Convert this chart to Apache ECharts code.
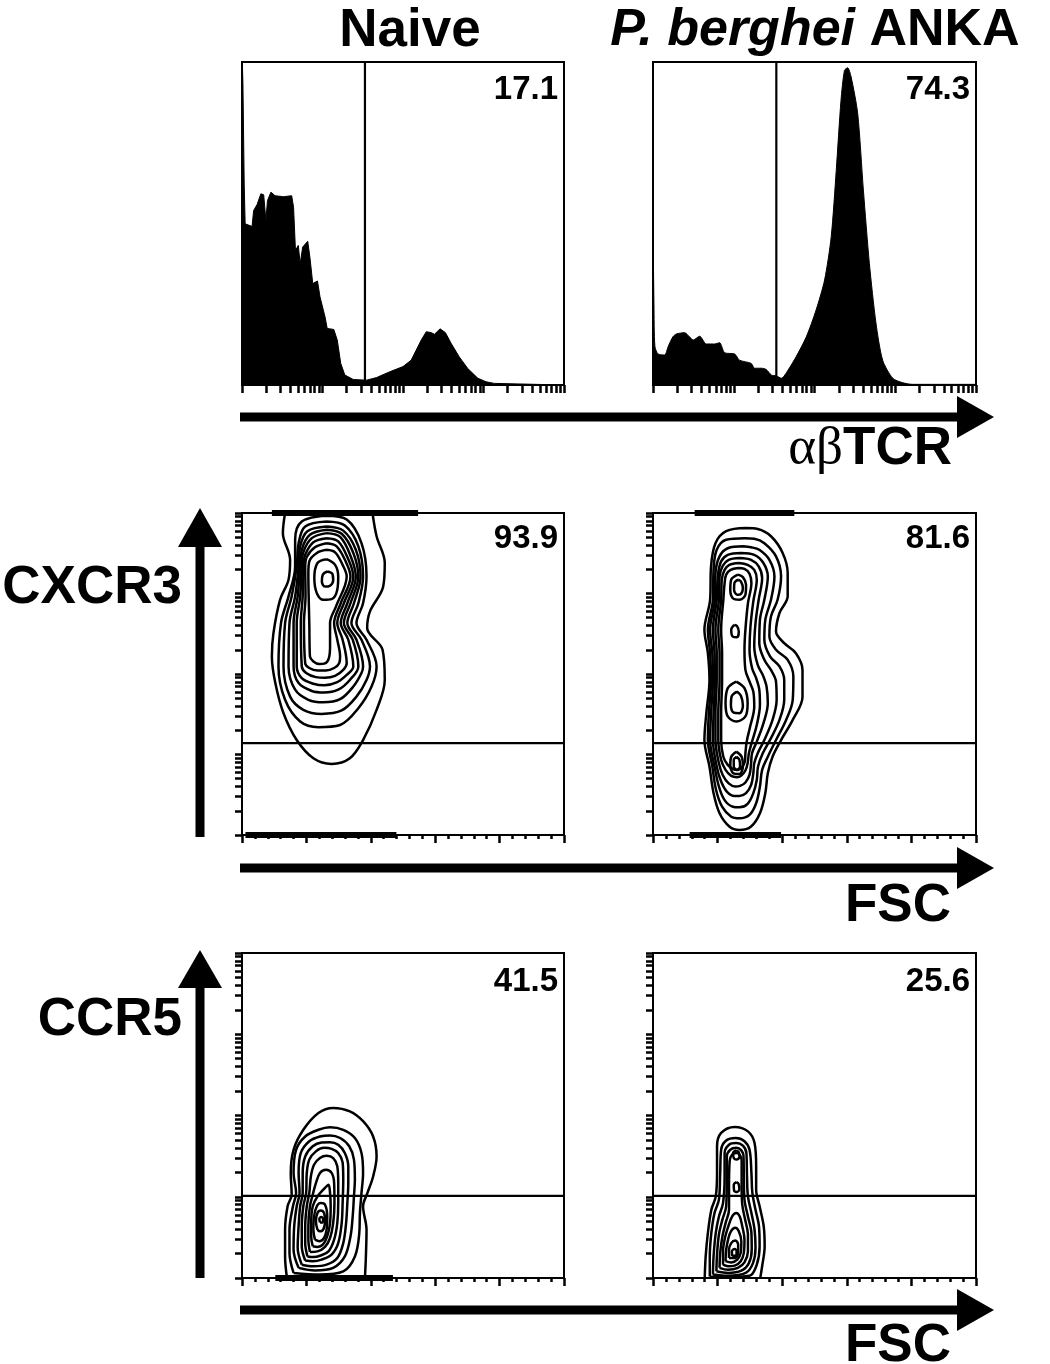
<!DOCTYPE html>
<html><head><meta charset="utf-8">
<script src="https://cdn.jsdelivr.net/npm/echarts@6/dist/echarts.min.js"></script>
<style>html,body{margin:0;padding:0;background:#fff}#c{width:1050px;height:1364px}</style>
</head><body><div id="c"></div>
<script>
// ---------- labels ----------
const columnTitles = ['Naive', 'P. berghei ANKA'];
const rowMarkers = ['CXCR3', 'CCR5'];
const xAxisNames = ['αβTCR', 'FSC', 'FSC'];
// gate percentages, [row][column]
const gateLabels = [['17.1', '74.3'], ['93.9', '81.6'], ['41.5', '25.6']];

// ---------- histograms (x: TCR channel 0-1024 = 4 log decades, y: % of max) ----------
const histNaive = [[0,0],[1,100],[3,93.1],[7,62.2],[10,49.9],[32,49.1],[37,54.0],[48,55.9],[60,59.2],[69,58.9],[76,50.9],[81,57.1],[92,59.7],[105,58.6],[132,58.3],[158,58.6],[164,55.0],[170,41.7],[179,43.2],[185,37.6],[193,42.7],[209,44.5],[216,39.5],[225,31.4],[240,32.2],[248,27.3],[264,21.1],[271,17.5],[292,17.2],[303,13.9],[314,6.7],[327,3.1],[354,1.7],[396,1.5],[428,2.3],[470,4.1],[512,5.7],[538,7.7],[554,10.8],[570,13.9],[586,16.5],[602,16.2],[612,15.7],[630,17.4],[647,16.2],[665,12.9],[691,8.7],[718,5.1],[750,2.1],[776,1.0],[802,0.5],[808,0],[1024,0]];
const histPbA = [[0,0],[1,40],[3,25],[6,12],[16,9.6],[37,9.3],[48,11.9],[63,14.9],[74,15.8],[100,16.2],[116,14.9],[127,13.9],[148,15.1],[169,12.7],[195,12.7],[211,13.1],[227,10.0],[259,9.6],[274,7.7],[311,6.7],[322,5.2],[343,5.2],[359,4.8],[375,3.1],[391,2.8],[407,2.1],[428,4.6],[454,8.8],[486,14.9],[517,23.2],[544,32.5],[565,45.9],[581,66.5],[596,88.1],[607,97.4],[617,98.2],[628,95.4],[649,84.0],[667,60.3],[686,37.6],[707,19.1],[728,7.7],[760,2.1],[792,0.7],[823,0.2],[1024,0.2]];
const tcrGate = 391;

// ---------- contour plots (x: FSC channel 0-1024, y: marker channel 0-1024 = 4 log decades) ----------
const cxcr3Gate = 292;
const ccr5Gate = 259;

const cxcr3Naive = [
 [[137,1024],[130,960],[153,875],[148,812],[121,748],[100,642],[95,568],[106,483],[132,387],[174,302],[227,244],[285,226],[343,244],[385,302],[428,398],[454,493],[447,589],[398,658],[407,711],[449,790],[454,865],[428,950],[415,1024]],
 [[269,1015],[190,997],[169,939],[169,854],[148,759],[124,674],[116,536],[137,430],[185,361],[243,343],[312,350],[370,403],[412,472],[428,536],[396,621],[364,674],[385,737],[396,822],[380,928],[333,1003]],
 [[269,997],[201,981],[180,928],[174,854],[158,759],[137,674],[132,536],[153,440],[195,398],[253,385],[317,396],[364,440],[396,493],[407,536],[380,621],[348,674],[370,737],[385,822],[370,918],[327,984]],
 [[269,981],[208,966],[185,918],[180,854],[169,759],[151,674],[148,536],[169,462],[211,430],[259,422],[312,432],[354,472],[380,515],[385,536],[364,621],[335,674],[356,737],[377,822],[362,907],[322,968]],
 [[269,971],[216,955],[190,907],[185,854],[177,759],[164,674],[164,536],[180,483],[222,458],[261,453],[306,462],[343,493],[370,536],[352,621],[324,674],[345,737],[370,822],[354,897],[317,958]],
 [[269,960],[222,944],[195,899],[190,854],[185,759],[174,674],[174,536],[190,499],[227,481],[262,476],[301,485],[333,509],[354,536],[338,621],[314,674],[335,737],[362,822],[345,888],[312,948]],
 [[269,944],[227,931],[201,891],[195,854],[193,759],[187,674],[190,536],[204,515],[235,502],[264,500],[296,506],[322,525],[333,546],[320,621],[303,674],[324,737],[354,822],[338,877],[306,934]],
 [[269,928],[232,915],[206,884],[201,854],[202,759],[197,674],[201,546],[214,531],[240,523],[267,523],[293,531],[309,546],[312,568],[303,621],[293,674],[314,737],[345,822],[331,867],[301,918]],
 [[269,907],[238,897],[214,870],[211,833],[212,759],[214,674],[216,568],[227,552],[246,544],[264,546],[276,562],[280,599],[280,674],[299,727],[333,822],[320,859],[296,899]],
 [[269,877],[240,865],[230,817],[238,769],[259,748],[285,750],[303,780],[306,822],[296,859]],
 [[271,838],[257,828],[254,806],[264,790],[280,793],[290,810],[287,831]]
];

const cxcr3PbA = [
 [[295,976],[232,966],[198,928],[184,854],[181,748],[163,653],[174,578],[179,493],[169,387],[163,302],[179,218],[192,133],[211,69],[242,27],[274,16],[311,27],[339,69],[356,133],[364,196],[379,249],[406,302],[443,366],[474,440],[474,525],[453,578],[416,610],[390,647],[401,706],[427,759],[427,833],[411,897],[374,950],[332,973]],
 [[290,944],[232,939],[202,907],[192,843],[190,748],[174,653],[181,578],[184,493],[177,387],[174,302],[188,218],[200,143],[219,90],[248,58],[274,53],[306,64],[327,101],[339,154],[346,207],[364,249],[390,302],[422,366],[443,430],[445,504],[427,557],[390,589],[369,631],[374,695],[395,748],[406,822],[390,886],[353,928],[321,942]],
 [[285,918],[237,912],[211,886],[198,833],[196,748],[181,653],[188,578],[190,493],[184,387],[181,302],[195,218],[209,154],[227,111],[253,90],[274,88],[300,99],[318,133],[329,175],[333,218],[348,260],[374,308],[401,366],[416,430],[416,493],[401,536],[371,568],[353,621],[356,684],[374,748],[385,822],[369,875],[337,907],[311,915]],
 [[279,897],[237,891],[216,870],[206,828],[202,748],[190,653],[195,578],[196,493],[192,387],[190,302],[202,218],[216,170],[234,138],[258,124],[274,124],[295,133],[311,159],[318,196],[321,228],[332,260],[353,302],[379,366],[392,430],[390,488],[374,525],[353,557],[337,610],[339,684],[353,748],[364,822],[350,865],[321,891]],
 [[274,881],[240,875],[221,856],[211,822],[209,748],[198,653],[202,578],[202,493],[198,387],[198,302],[209,228],[221,191],[240,164],[261,154],[276,156],[293,167],[306,191],[311,228],[314,260],[329,297],[350,355],[364,419],[360,472],[348,509],[332,541],[321,599],[325,674],[335,748],[346,817],[335,854],[311,875]],
 [[272,865],[242,859],[227,843],[218,812],[216,748],[207,653],[211,578],[211,493],[207,387],[207,302],[216,239],[230,207],[248,188],[266,184],[279,188],[293,205],[300,228],[304,260],[314,297],[329,350],[339,414],[337,462],[327,499],[314,531],[306,589],[309,663],[318,743],[329,812],[321,843],[300,859]],
 [[270,849],[246,843],[232,828],[227,801],[223,748],[216,653],[219,578],[219,493],[216,387],[216,302],[223,249],[237,223],[255,209],[270,207],[282,215],[291,233],[293,260],[297,297],[308,345],[321,408],[318,456],[306,488],[293,525],[290,589],[293,653],[301,737],[312,801],[306,831],[290,846]],
 [[269,828],[248,812],[245,780],[253,753],[274,748],[293,764],[295,796],[285,820]],
 [[270,812],[258,801],[257,780],[267,764],[279,767],[285,785],[279,806]],
 [[264,488],[237,467],[230,419],[237,377],[264,361],[293,377],[300,419],[290,467]],
 [[266,456],[249,440],[247,414],[256,389],[274,387],[285,411],[279,442]],
 [[264,265],[248,249],[245,223],[255,196],[274,194],[285,218],[281,249]],
 [[265,249],[256,239],[256,218],[266,207],[276,218],[274,239]],
 [[258,668],[248,653],[253,631],[266,629],[272,647],[266,665]]
];

const ccr5Naive = [
 [[143,0],[137,68],[137,152],[145,226],[158,263],[155,331],[164,404],[195,467],[243,520],[290,536],[343,525],[385,494],[417,446],[428,383],[417,320],[399,268],[385,226],[396,152],[394,68],[391,0]],
 [[164,16],[151,79],[151,152],[162,226],[172,268],[164,331],[172,404],[201,446],[243,467],[280,475],[322,467],[359,441],[380,394],[385,331],[380,268],[375,205],[373,142],[359,68],[322,21],[248,11]],
 [[180,32],[164,89],[166,163],[174,226],[183,268],[180,331],[187,394],[214,431],[248,446],[280,449],[312,441],[341,415],[356,373],[359,310],[356,257],[352,194],[345,131],[327,68],[290,32],[232,24]],
 [[190,42],[177,95],[180,163],[185,226],[193,268],[193,331],[201,383],[225,415],[253,427],[280,428],[306,420],[327,394],[338,352],[338,299],[335,236],[331,173],[322,110],[303,63],[269,42],[227,37]],
 [[201,55],[190,100],[190,163],[195,226],[204,268],[206,331],[214,373],[235,399],[261,410],[285,407],[306,394],[320,364],[322,310],[320,236],[317,173],[306,110],[285,74],[253,58],[225,53]],
 [[208,68],[201,110],[201,163],[206,226],[214,268],[219,320],[229,357],[248,378],[269,385],[290,378],[303,352],[306,299],[306,236],[303,173],[293,121],[275,84],[248,70],[227,66]],
 [[216,82],[211,121],[211,163],[216,226],[225,263],[235,299],[248,331],[267,341],[285,331],[293,299],[294,236],[290,173],[280,126],[264,98],[240,84]],
 [[225,100],[220,131],[220,173],[225,226],[240,257],[264,284],[275,294],[280,268],[282,226],[280,173],[271,131],[257,105],[240,98]],
 [[232,121],[227,152],[229,194],[238,226],[250,236],[264,231],[271,194],[269,152],[261,126],[246,116]],
 [[240,152],[235,179],[240,205],[250,213],[261,205],[264,179],[259,154],[248,147]],
 [[248,175],[246,186],[252,192],[258,186],[256,175]]
];

const ccr5PbA = [
 [[164,0],[167,68],[174,142],[185,215],[199,257],[203,331],[203,415],[216,457],[259,476],[301,462],[322,425],[327,352],[327,278],[338,226],[351,163],[354,100],[346,37],[340,0]],
 [[180,5],[180,68],[185,142],[195,205],[209,247],[213,331],[216,404],[232,433],[262,441],[290,431],[306,404],[312,331],[315,268],[325,215],[336,163],[338,100],[329,42],[306,7],[232,3]],
 [[190,11],[192,68],[199,142],[209,194],[222,236],[227,320],[227,394],[241,420],[264,425],[285,417],[296,394],[298,320],[301,257],[312,205],[322,152],[325,95],[317,47],[294,16],[238,7]],
 [[201,21],[203,74],[209,137],[220,184],[232,226],[234,310],[234,383],[245,404],[264,410],[280,402],[287,383],[288,310],[290,247],[301,194],[312,142],[313,89],[304,47],[280,23],[238,16]],
 [[211,32],[213,79],[220,131],[230,173],[241,215],[241,289],[243,368],[251,389],[266,394],[277,385],[281,368],[281,289],[283,231],[292,184],[301,137],[301,84],[290,49],[269,32],[238,26]],
 [[222,42],[222,84],[228,126],[239,163],[251,194],[264,205],[275,194],[283,163],[290,121],[288,79],[278,53],[259,39],[238,37]],
 [[230,53],[232,89],[238,121],[247,147],[261,158],[272,147],[280,116],[278,79],[267,58],[248,49]],
 [[241,63],[241,89],[248,110],[261,118],[270,105],[270,79],[259,63]],
 [[251,70],[250,84],[259,91],[265,84],[263,70]],
 [[264,402],[254,394],[256,378],[265,373],[274,381],[272,396]],
 [[264,302],[256,294],[257,276],[266,271],[274,280],[271,297]]
];

// off-scale event piles along panel edges: [panelIndex, x0, x1, y]
const edgePiles = [[2,95,560,1024],[2,11,491,0],[3,132,448,1024],[3,116,406,0],[4,106,480,0]];

// ---------- layout ----------
const panels = [
  {left:242, top:62,  width:322, height:323},
  {left:653, top:62,  width:323, height:323},
  {left:242, top:513, width:322, height:322},
  {left:653, top:513, width:323, height:322},
  {left:242, top:953, width:322, height:325},
  {left:653, top:953, width:323, height:325}
];

const logTicks = [];
for (let d = 0; d < 4; d++) for (let k = 1; k < 10; k++) logTicks.push(+(256 * (d + Math.log10(k))).toFixed(2));
logTicks.push(1024);

const BLK = '#000';
const grid = panels.map(p => Object.assign({show:true, borderColor:BLK, borderWidth:2, backgroundColor:'transparent'}, p));

const xAxis = panels.map((p, i) => {
  const base = {type:'value', gridIndex:i, min:0, max:1024, axisLine:{show:false}, axisLabel:{show:false}, splitLine:{show:false}};
  if (i < 2) {
    base.axisTick = {show:true, customValues:logTicks, length:8, lineStyle:{color:BLK, width:2.5}};
  } else {
    base.interval = 204.8;
    base.axisTick = {show:true, length:8, lineStyle:{color:BLK, width:2.5}};
    base.minorTick = {show:true, splitNumber:5, length:4, lineStyle:{color:BLK, width:2.5}};
  }
  return base;
});
const yAxis = panels.map((p, i) => {
  if (i < 2) return {type:'value', gridIndex:i, min:0, max:100, show:false};
  return {type:'value', gridIndex:i, min:0, max:1024, axisLine:{show:false}, axisLabel:{show:false}, splitLine:{show:false},
    axisTick:{show:true, customValues:logTicks, length:7, lineStyle:{color:BLK, width:2.5}}};
});

const series = [];
function lineS(i, data, w, extra) {
  return Object.assign({type:'line', xAxisIndex:i, yAxisIndex:i, data:data, symbol:'none', silent:true,
    lineStyle:{color:BLK, width:w}, clip:true, z:3}, extra || {});
}
series.push(lineS(0, histNaive, 1, {areaStyle:{color:BLK, opacity:1}}));
series.push(lineS(1, histPbA, 1, {areaStyle:{color:BLK, opacity:1}, smooth:0.25}));
series.push(lineS(0, [[tcrGate,0],[tcrGate,100]], 2.2, {z:4}));
series.push(lineS(1, [[tcrGate,0],[tcrGate,100]], 2.2, {z:4}));

function addContours(i, list) {
  list.forEach(c => {
    const f = c[0], l = c[c.length - 1];
    const open = (f[1] === 0 || f[1] === 1024) && (l[1] === 0 || l[1] === 1024);
    const data = open ? c : c.concat([f]);
    series.push(lineS(i, data, 2.5, {smooth:0.35}));
  });
}
addContours(2, cxcr3Naive);
addContours(3, cxcr3PbA);
addContours(4, ccr5Naive);
addContours(5, ccr5PbA);
[2,3].forEach(i => series.push(lineS(i, [[0,cxcr3Gate],[1024,cxcr3Gate]], 2.2, {z:4})));
[4,5].forEach(i => series.push(lineS(i, [[0,ccr5Gate],[1024,ccr5Gate]], 2.2, {z:4})));
edgePiles.forEach(e => series.push(lineS(e[0], [[e[1],e[3]],[e[2],e[3]]], 6)));

// ---------- annotations ----------
const SANS = '"Liberation Sans", Arial, Helvetica, sans-serif';
const graphic = [];
const labelY = [89.5, 539, 981.5];
gateLabels.forEach((row, r) => row.forEach((t, c) => {
  const p = panels[r * 2 + c];
  graphic.push({type:'text', x:p.left + p.width - 6, y:labelY[r], z:10,
    style:{text:t, font:'bold 33px ' + SANS, fill:BLK, align:'right', verticalAlign:'middle'}});
}));
graphic.push({type:'text', x:410, y:31, style:{text:columnTitles[0], font:'bold 53px ' + SANS, fill:BLK, align:'center', verticalAlign:'middle'}});
graphic.push({type:'text', x:815, y:31, style:{text:'{i|' + columnTitles[1].replace(' ANKA','') + '\u00a0}{b|ANKA}', align:'center', verticalAlign:'middle',
  rich:{i:{font:'italic bold 52px ' + SANS, fill:BLK}, b:{font:'bold 52px ' + SANS, fill:BLK}}}});
// horizontal arrows
const hArrowY = [417, 868, 1310];
hArrowY.forEach(y => {
  graphic.push({type:'rect', shape:{x:240, y:y - 4.5, width:720, height:9}, style:{fill:BLK}});
  graphic.push({type:'polygon', shape:{points:[[957,y - 21],[994,y],[957,y + 21]]}, style:{fill:BLK}});
});
graphic.push({type:'text', x:952, y:449, style:{text:'{g|αβ}{b|TCR}', align:'right', verticalAlign:'middle',
  rich:{g:{font:'normal 53px "Liberation Serif", "DejaVu Serif", serif', fill:BLK}, b:{font:'bold 53px ' + SANS, fill:BLK}}}});
graphic.push({type:'text', x:951, y:906, style:{text:xAxisNames[1], font:'bold 53px ' + SANS, fill:BLK, align:'right', verticalAlign:'middle'}});
graphic.push({type:'text', x:951, y:1346, style:{text:xAxisNames[2], font:'bold 53px ' + SANS, fill:BLK, align:'right', verticalAlign:'middle'}});
// vertical arrows
[[508, 547, 837], [950, 988, 1278]].forEach(a => {
  graphic.push({type:'rect', shape:{x:195.5, y:a[1] - 1, width:9, height:a[2] - a[1] + 1}, style:{fill:BLK}});
  graphic.push({type:'polygon', shape:{points:[[178,a[1]],[200,a[0]],[222,a[1]]]}, style:{fill:BLK}});
});
graphic.push({type:'text', x:182, y:588.5, style:{text:rowMarkers[0], font:'bold 53px ' + SANS, fill:BLK, align:'right', verticalAlign:'middle'}});
graphic.push({type:'text', x:182, y:1020, style:{text:rowMarkers[1], font:'bold 53px ' + SANS, fill:BLK, align:'right', verticalAlign:'middle'}});

const chart = echarts.init(document.getElementById('c'), null, {renderer:'canvas'});
chart.setOption({animation:false, backgroundColor:'#fff', grid, xAxis, yAxis, series, graphic});
</script></body></html>
